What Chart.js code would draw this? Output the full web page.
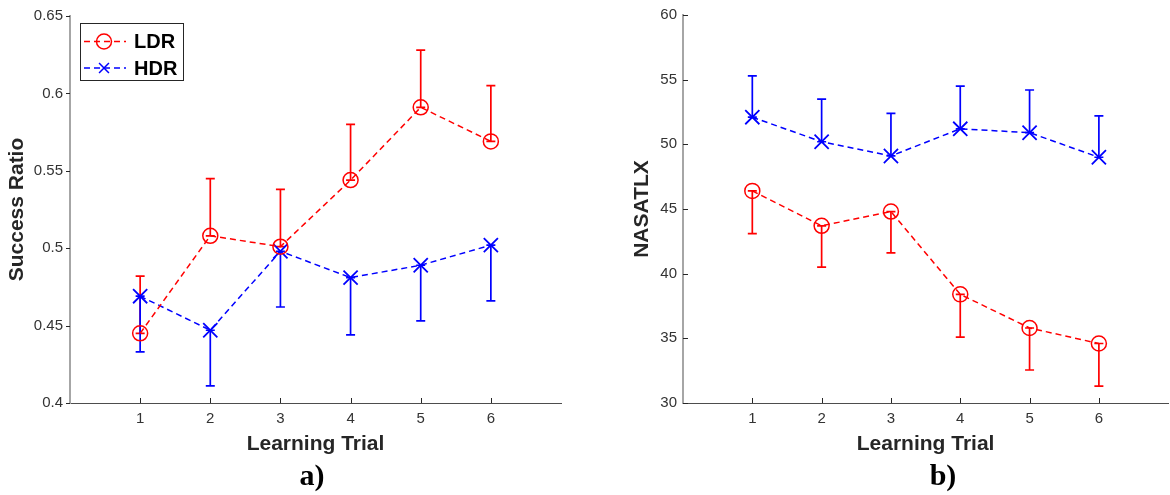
<!DOCTYPE html>
<html>
<head>
<meta charset="utf-8">
<script src="https://cdn.jsdelivr.net/npm/chart.js@4.4.0/dist/chart.umd.min.js"></script>
<style>
  html, body { margin: 0; padding: 0; background: #fff; overflow: hidden; }
  body { width: 1170px; height: 495px; position: relative; }
  canvas { position: absolute; top: 0; }
  #chartA { left: 0; }
  #chartB { left: 585px; }
  .tag { position: absolute; top: 458px; width: 100px; text-align: center;
         font: bold 30px 'Liberation Serif', 'Times New Roman', serif; color: #000; }
</style>
</head>
<body>
<canvas id="chartA" width="580" height="460"></canvas>
<canvas id="chartB" width="595" height="460"></canvas>
<div class="tag" style="left:262px">a)</div>
<div class="tag" style="left:893px">b)</div>
<script>
const trials = [1, 2, 3, 4, 5, 6];
const trialTicks = [1, 2, 3, 4, 5, 6];
const successTicks = [0.4, 0.45, 0.5, 0.55, 0.6, 0.65];
const tlxTicks = [30, 35, 40, 45, 50, 55, 60];

// a) success ratio
const ldrSuccess = [0.445, 0.508, 0.501, 0.544, 0.591, 0.569];
const ldrSuccessErr = [0.037, 0.037, 0.037, 0.036, 0.037, 0.036];   // drawn up
const hdrSuccess = [0.469, 0.447, 0.498, 0.481, 0.489, 0.502];
const hdrSuccessErr = [0.036, 0.036, 0.036, 0.037, 0.036, 0.036];   // drawn down

// b) NASA TLX
const ldrTlx = [46.4, 43.7, 44.8, 38.4, 35.8, 34.6];
const ldrTlxErr = [3.3, 3.2, 3.2, 3.3, 3.25, 3.3];                 // drawn down
const hdrTlx = [52.1, 50.2, 49.1, 51.2, 50.9, 49.0];
const hdrTlxErr = [3.2, 3.3, 3.3, 3.3, 3.3, 3.2];                  // drawn up

const RED = 'rgb(255,0,0)';
const BLUE = 'rgb(0,0,255)';
const FONT = "'Liberation Sans', Arial, Helvetica, sans-serif";
const AXIS = '#262626';

function marker(ctx, style, x, y, r) {
  ctx.beginPath();
  if (style === 'circle') {
    ctx.arc(x, y, r, 0, Math.PI * 2);
  } else {
    const d = r * Math.SQRT1_2;
    ctx.moveTo(x - d, y - d); ctx.lineTo(x + d, y + d);
    ctx.moveTo(x - d, y + d); ctx.lineTo(x + d, y - d);
  }
  ctx.stroke();
}

const errorBars = {
  id: 'errorBars',
  beforeDatasetsDraw(chart, args, opts) {
    const { ctx, scales: { x, y } } = chart;
    ctx.save();
    ctx.setLineDash([]);
    ctx.lineWidth = 1.7;
    opts.bars.forEach(b => {
      ctx.strokeStyle = b.color;
      b.values.forEach((v, i) => {
        const px = x.getPixelForValue(trials[i]);
        const p0 = y.getPixelForValue(v);
        const p1 = y.getPixelForValue(v + b.dir * b.err[i]);
        ctx.beginPath();
        ctx.moveTo(px, p0); ctx.lineTo(px, p1);
        ctx.moveTo(px - 4.5, p0); ctx.lineTo(px + 4.5, p0);
        ctx.moveTo(px - 4.5, p1); ctx.lineTo(px + 4.5, p1);
        ctx.stroke();
      });
    });
    ctx.restore();
  }
};

const tickMarks = {
  id: 'tickMarks',
  afterDraw(chart, args, opts) {
    const { ctx, chartArea, scales: { x, y } } = chart;
    ctx.save();
    ctx.strokeStyle = AXIS;
    ctx.lineWidth = 1;
    ctx.beginPath();
    trialTicks.forEach(t => {
      const px = Math.round(x.getPixelForValue(t)) + 0.5;
      ctx.moveTo(px, chartArea.bottom); ctx.lineTo(px, chartArea.bottom - 5);
    });
    opts.yTicks.forEach(t => {
      const py = Math.round(y.getPixelForValue(t)) + 0.5;
      ctx.moveTo(chartArea.left, py); ctx.lineTo(chartArea.left + opts.yLen, py);
    });
    ctx.stroke();
    ctx.restore();
  }
};

const boxLegend = {
  id: 'boxLegend',
  afterDraw(chart, args, opts) {
    if (!opts.items) return;
    const ctx = chart.ctx;
    ctx.save();
    ctx.fillStyle = '#fff';
    ctx.fillRect(80.5, 23.5, 103, 57);
    ctx.strokeStyle = AXIS;
    ctx.lineWidth = 1;
    ctx.strokeRect(80.5, 23.5, 103, 57);
    opts.items.forEach((it, i) => {
      const yy = 41.5 + i * 26.5;
      ctx.strokeStyle = it.color;
      ctx.lineWidth = 1.5;
      ctx.setLineDash([6, 4]);
      ctx.beginPath(); ctx.moveTo(84, yy); ctx.lineTo(126, yy); ctx.stroke();
      ctx.setLineDash([]);
      marker(ctx, it.style, 104, yy, it.r);
      ctx.fillStyle = '#000';
      ctx.font = 'bold 20px ' + FONT;
      ctx.textBaseline = 'middle';
      ctx.fillText(it.label, 134, yy + 1);
    });
    ctx.restore();
  }
};

function series(label, ys, color, style, radius, bw) {
  return {
    label: label,
    data: trials.map((t, i) => ({ x: t, y: ys[i] })),
    showLine: true,
    borderColor: color,
    borderWidth: 1.5,
    borderDash: [6, 4],
    pointStyle: style,
    pointRadius: radius,
    pointHoverRadius: radius,
    pointBorderColor: color,
    pointBackgroundColor: 'rgba(0,0,0,0)',
    pointBorderWidth: bw
  };
}

function scalesFor(yTicks, yTitle, yWidth, yTitlePad, yTickPad, digits) {
  return {
    x: {
      type: 'linear', min: 0, max: 7,
      afterBuildTicks: ax => { ax.ticks = trialTicks.map(v => ({ value: v })); },
      afterFit: ax => { ax.height = 57; },
      grid: { display: false, drawTicks: false },
      border: { color: '#4d4d4d', width: 1 },
      ticks: { color: '#333', font: { family: FONT, size: 15 }, padding: 7, maxRotation: 0, autoSkip: false },
      title: { display: true, text: 'Learning Trial', color: AXIS,
               font: { family: FONT, size: 21, weight: 'bold' }, padding: { top: 0, bottom: 3 } }
    },
    y: {
      type: 'linear', min: yTicks[0], max: yTicks[yTicks.length - 1],
      afterBuildTicks: ax => { ax.ticks = yTicks.map(v => ({ value: v })); },
      afterFit: ax => { ax.width = yWidth; },
      grid: { display: false, drawTicks: false },
      border: { color: '#a6a6a6', width: 2 },
      ticks: { color: '#333', font: { family: FONT, size: 15 }, padding: yTickPad, autoSkip: false,
               callback: v => String(+v.toFixed(digits)) },
      title: { display: true, text: yTitle, color: AXIS,
               font: { family: FONT, size: 21, weight: 'bold' }, padding: { top: yTitlePad, bottom: 0 } }
    }
  };
}

new Chart(document.getElementById('chartA'), {
  type: 'scatter',
  data: {
    datasets: [
      series('LDR', ldrSuccess, RED, 'circle', 7.5, 1.5),
      series('HDR', hdrSuccess, BLUE, 'crossRot', 10, 1.8)
    ]
  },
  options: {
    responsive: false,
    animation: false,
    layout: { padding: { left: 0, right: 19, top: 14, bottom: 0 } },
    scales: scalesFor(successTicks, 'Success Ratio', 70, 5, 7, 2),
    plugins: {
      legend: { display: false },
      tooltip: { enabled: false },
      errorBars: { bars: [
        { values: ldrSuccess, err: ldrSuccessErr, dir: 1, color: RED },
        { values: hdrSuccess, err: hdrSuccessErr, dir: -1, color: BLUE }
      ] },
      tickMarks: { yTicks: successTicks, yLen: -4 },
      boxLegend: { items: [
        { label: 'LDR', color: RED, style: 'circle', r: 7.5 },
        { label: 'HDR', color: BLUE, style: 'crossRot', r: 7 }
      ] }
    }
  },
  plugins: [errorBars, tickMarks, boxLegend]
});

new Chart(document.getElementById('chartB'), {
  type: 'scatter',
  data: {
    datasets: [
      series('LDR', ldrTlx, RED, 'circle', 7.5, 1.5),
      series('HDR', hdrTlx, BLUE, 'crossRot', 10, 1.8)
    ]
  },
  options: {
    responsive: false,
    animation: false,
    layout: { padding: { left: 0, right: 5, top: 14, bottom: 0 } },
    scales: scalesFor(tlxTicks, 'NASATLX', 98, 45, 6, 0),
    plugins: {
      legend: { display: false },
      tooltip: { enabled: false },
      errorBars: { bars: [
        { values: ldrTlx, err: ldrTlxErr, dir: -1, color: RED },
        { values: hdrTlx, err: hdrTlxErr, dir: 1, color: BLUE }
      ] },
      tickMarks: { yTicks: tlxTicks, yLen: 5 },
      boxLegend: {}
    }
  },
  plugins: [errorBars, tickMarks, boxLegend]
});
</script>
</body>
</html>
